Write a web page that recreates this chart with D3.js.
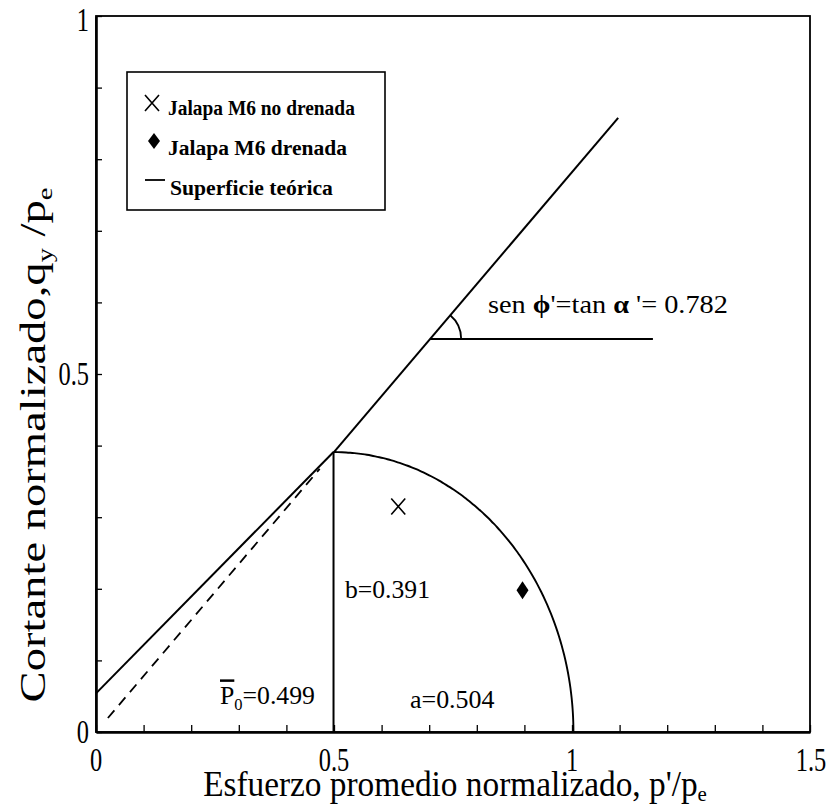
<!DOCTYPE html>
<html><head><meta charset="utf-8">
<script src="https://cdn.jsdelivr.net/npm/d3@7"></script>
<style>
body{margin:0;background:#fff}
</style>
</head><body>
<svg id="chart" width="828" height="806"></svg>
<script>
// Axis tick labels
const pTickLabels = [0, 0.5, 1, 1.5];
const qTickLabels = [0, 0.5, 1];
const pMinorTicks = d3.range(0, 16).map(i => i / 10);
const qMinorTicks = d3.range(0, 11).map(i => i / 10);

// Yield surface parameters
const p0 = 0.499;      // centre of the ellipse
const aAxis = 0.504;   // horizontal semi-axis
const bAxis = 0.391;   // vertical semi-axis
const tanAlpha = 0.782;

// Critical state line (q = tanAlpha * p) and its dashed extension to the origin
const cslRange = [0.499, 1.097];
const dashedRange = [0.025, 0.47];
// Solid envelope below p0
const envelopeP = [0, 0.499];
const envelopeQ = [0.054, 0.391];

// Test points
const undrainedP = [0.635], undrainedQ = [0.315];
const drainedP = [0.896], drainedQ = [0.198];

// Angle marker on the critical state line
const angleQ = 0.549;
const angleRefEndP = 1.17;

const FONT = "'Liberation Serif', 'Times New Roman', 'DejaVu Serif', serif";
const svg = d3.select("#chart");
const x = d3.scaleLinear().domain([0, 1.5]).range([96, 810]);
const y = d3.scaleLinear().domain([0, 1]).range([732, 16]);

// Text helper: draws a string (or tspans) and squeezes it horizontally to a width
function label(parent, px, py, build, size, opt = {}) {
  const g = parent.append("g");
  const t = g.append("text").attr("font-size", size)
    .attr("font-family", FONT).attr("fill", "#000")
    .attr("text-anchor", opt.anchor || "start")
    .attr("font-weight", opt.weight || "normal");
  if (typeof build === "string") t.text(build); else build(t);
  const w = t.node().getBBox().width;
  const sx = opt.width ? opt.width / w : (opt.sx || 1);
  const rot = opt.rotate ? ` rotate(${opt.rotate})` : "";
  g.attr("transform", `translate(${px},${py})${rot} scale(${sx},1)`);
  return t;
}

// Frame
svg.append("rect").attr("x", x(0)).attr("y", y(1))
  .attr("width", x(1.5) - x(0)).attr("height", y(0) - y(1))
  .attr("fill", "none").attr("stroke", "#000").attr("stroke-width", 1.8);

// Axes with inward ticks
const xAxis = svg.append("g").attr("transform", `translate(0,${y(0)})`)
  .call(d3.axisBottom(x).tickValues(pMinorTicks).tickSize(-7).tickSizeOuter(0).tickFormat(""));
const yAxis = svg.append("g").attr("transform", `translate(${x(0)},0)`)
  .call(d3.axisLeft(y).tickValues(qMinorTicks).tickSize(-6).tickSizeOuter(0).tickFormat(""));
[xAxis, yAxis].forEach(a => {
  a.select(".domain").attr("stroke", "#000").attr("stroke-width", 2.6);
  a.selectAll(".tick line").attr("stroke", "#000").attr("stroke-width", 1.3);
});

// Tick labels
pTickLabels.forEach(v => label(svg, x(v) + (v === 1.5 ? 1 : 0), 771, String(v), 33, {anchor: "middle", sx: 0.74}));
qTickLabels.forEach(v => label(svg, 89, v === 1 ? 31 : y(v) + 11, String(v), 33, {anchor: "end", sx: 0.74}));

// Axis titles
label(svg, 455, 796, t => {
  t.append("tspan").text("Esfuerzo promedio normalizado, p'/p");
  t.append("tspan").attr("font-size", 22).attr("dy", 5).text("e");
}, 35, {anchor: "middle", width: 504});
label(svg, 45, 445, t => {
  t.append("tspan").text("Cortante normalizado,q");
  t.append("tspan").attr("font-size", 22).attr("dy", 7).text("y");
  t.append("tspan").attr("dy", -7).text(" /p");
  t.append("tspan").attr("font-size", 22).attr("dy", 7).text("e");
}, 36, {anchor: "middle", width: 515, rotate: -90});

const line = d3.line().x(d => x(d[0])).y(d => y(d[1]));
const stroke = (sel, w) => sel.attr("fill", "none").attr("stroke", "#000").attr("stroke-width", w);

// Critical state line
stroke(svg.append("path").attr("d", line(cslRange.map(p => [p, tanAlpha * p]))), 2);
// Dashed extension through the origin
stroke(svg.append("path").attr("d", line(dashedRange.map(p => [p, tanAlpha * p]))), 1.8)
  .attr("stroke-dasharray", "10,7");
// Solid envelope on the dry side
stroke(svg.append("path").attr("d", line(envelopeP.map((p, i) => [p, envelopeQ[i]]))), 2);

// Elliptical yield surface
const ell = d3.range(0, 91).map(k => {
  const t = k * Math.PI / 180;
  return [p0 + aAxis * Math.sin(t), bAxis * Math.cos(t)];
});
stroke(svg.append("path").attr("d", d3.line().x(d => x(d[0])).y(d => y(d[1])).curve(d3.curveBasis)(ell)), 1.9);
// Vertical line at p0
stroke(svg.append("path").attr("d", line([[p0, 0], [p0, bAxis]])), 2);

// Angle marker
const pA = angleQ / tanAlpha;
stroke(svg.append("path").attr("d", line([[pA, angleQ], [angleRefEndP, angleQ]])), 2);
const ang = Math.atan2(y(0) - y(tanAlpha), x(1) - x(0));
const r = 31, cx = x(pA), cy = y(angleQ);
stroke(svg.append("path").attr("d",
  `M${cx + r},${cy} A${r},${r} 0 0 0 ${cx + r * Math.cos(ang)},${cy - r * Math.sin(ang)}`), 1.8);
label(svg, 488, 313, t => {
  t.append("tspan").text("sen ");
  t.append("tspan").attr("font-weight", "bold").text("ϕ");
  t.append("tspan").text("'=tan ");
  t.append("tspan").attr("font-weight", "bold").text("α");
  t.append("tspan").text(" '= 0.782");
}, 26, {width: 240});

// Annotations
label(svg, 345, 598, "b=0.391", 25, {width: 85});
label(svg, 410, 708, "a=0.504", 25, {width: 85});
label(svg, 220, 704, t => {
  t.append("tspan").attr("text-decoration", "overline").text("P");
  t.append("tspan").attr("font-size", 16).attr("dy", 6).text("0");
  t.append("tspan").attr("dy", -6).text("=0.499");
}, 25, {width: 95});

// Markers
function cross(parent, cx, cy, w, h, sw) {
  stroke(parent.append("path").attr("d",
    `M${cx - w / 2},${cy - h / 2}L${cx + w / 2},${cy + h / 2}M${cx + w / 2},${cy - h / 2}L${cx - w / 2},${cy + h / 2}`), sw);
}
function diamond(parent, cx, cy, w, h) {
  parent.append("path").attr("d",
    `M${cx},${cy - h / 2}L${cx + w / 2},${cy}L${cx},${cy + h / 2}L${cx - w / 2},${cy}Z`).attr("fill", "#000");
}
undrainedP.forEach((p, i) => cross(svg, x(p), y(undrainedQ[i]), 14, 16, 1.6));
drainedP.forEach((p, i) => diamond(svg, x(p), y(drainedQ[i]), 12, 18));

// Legend
const lg = svg.append("g");
lg.append("rect").attr("x", 127).attr("y", 72).attr("width", 258).attr("height", 138)
  .attr("fill", "#fff").attr("stroke", "#000").attr("stroke-width", 1.6);
cross(lg, 152, 103, 14, 16, 1.6);
label(lg, 168, 115, "Jalapa M6 no drenada", 20, {weight: "bold", width: 187});
diamond(lg, 154, 141, 12, 16);
label(lg, 168, 155, "Jalapa M6 drenada", 20, {weight: "bold", width: 179});
stroke(lg.append("path").attr("d", "M145,180L165,180"), 1.8);
label(lg, 170, 195, "Superficie teórica", 20, {weight: "bold", width: 163});
</script>
</body></html>
